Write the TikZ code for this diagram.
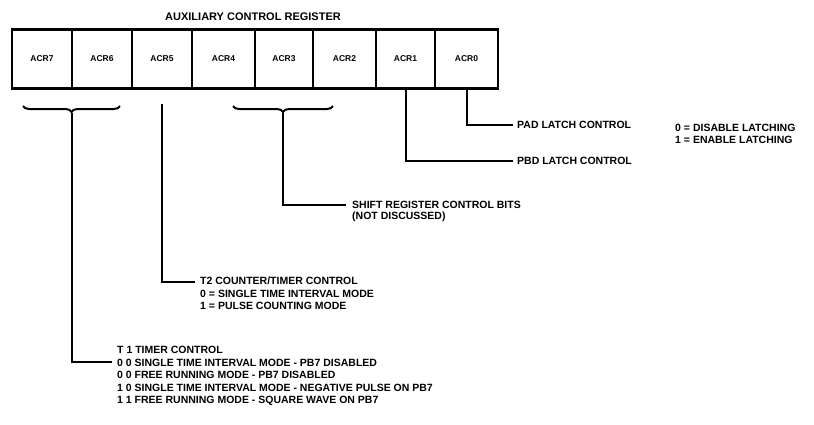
\documentclass[tikz,border=0pt]{standalone}
\usepackage{fontspec}
\setmainfont{Liberation Sans}
\usetikzlibrary{decorations.pathreplacing}
\begin{document}
\begin{tikzpicture}[x=1pt,y=-1pt,
  cell/.style={draw,line width=2.2pt,minimum width=60pt,minimum height=59pt,inner sep=0pt,font=\bfseries\fontsize{8.5}{10}\selectfont},
  lbl/.style={anchor=west,inner sep=0pt,font=\bfseries\fontsize{10.5}{12.5}\selectfont,align=left},
  conn/.style={line width=2pt},
  brc/.style={line width=2pt,decorate,decoration={brace,mirror,amplitude=6pt}}]
\useasboundingbox (0,0) rectangle (814,424);
\node[inner sep=0pt,font=\bfseries\fontsize{11}{12}\selectfont] (title) at (253,17) {AUXILIARY CONTROL REGISTER};
\node[cell] (a7) at (42,59) {ACR7};
\node[cell,minimum width=60pt] (a6) at (102,59) {ACR6};
\node[cell] (a5) at (162,59) {ACR5};
\node[cell,minimum width=63pt] (a4) at (223.5,59) {ACR4};
\node[cell,minimum width=58pt] (a3) at (284,59) {ACR3};
\node[cell,minimum width=63pt] (a2) at (344.5,59) {ACR2};
\node[cell,minimum width=59pt] (a1) at (405.5,59) {ACR1};
\node[cell,minimum width=63pt] (a0) at (466.5,59) {ACR0};
% braces
\coordinate (b76l) at (23,106);
\coordinate (b76r) at (120,106);
\draw[brc] (b76l) -- (b76r);
\coordinate (b76m) at (72,113);
\coordinate (b43l) at (233,106);
\coordinate (b43r) at (333,106);
\draw[brc] (b43l) -- (b43r);
\coordinate (b43m) at (283,113);
% labels
\node[lbl] (pa) at (517,125) {PAD LATCH CONTROL};
\node[lbl] (pb) at (517,161) {PBD LATCH CONTROL};
\node[lbl] (leg) at (675,134) {0 = DISABLE LATCHING\\1 = ENABLE LATCHING};
\node[lbl] (sr) at (352,205) {SHIFT REGISTER CONTROL BITS};
\node[lbl] (srn) at (352,217) {(NOT DISCUSSED)};
\node[lbl,anchor=north west] (t2) at (200,277) {T2 COUNTER/TIMER CONTROL\\0 = SINGLE TIME INTERVAL MODE\\1 = PULSE COUNTING MODE};
\node[lbl,anchor=north west] (t1) at (117,346) {T 1 TIMER CONTROL\\0 0 SINGLE TIME INTERVAL MODE - PB7 DISABLED\\0 0 FREE RUNNING MODE - PB7 DISABLED\\1 0 SINGLE TIME INTERVAL MODE - NEGATIVE PULSE ON PB7\\1 1 FREE RUNNING MODE - SQUARE WAVE ON PB7};
% connectors
\draw[conn] (a0.south) |- ([xshift=-4pt]pa.west);
\draw[conn] (a1.south) |- ([xshift=-4pt]pb.west);
\draw[conn] (b43m) |- ([xshift=-6pt]sr.west);
\draw[conn] (162,104) |- ([xshift=-5pt]t2.north west |- 0,282);
\draw[conn] (b76m) |- ([xshift=-5pt]t1.north west |- 0,362);
\end{tikzpicture}
\end{document}
